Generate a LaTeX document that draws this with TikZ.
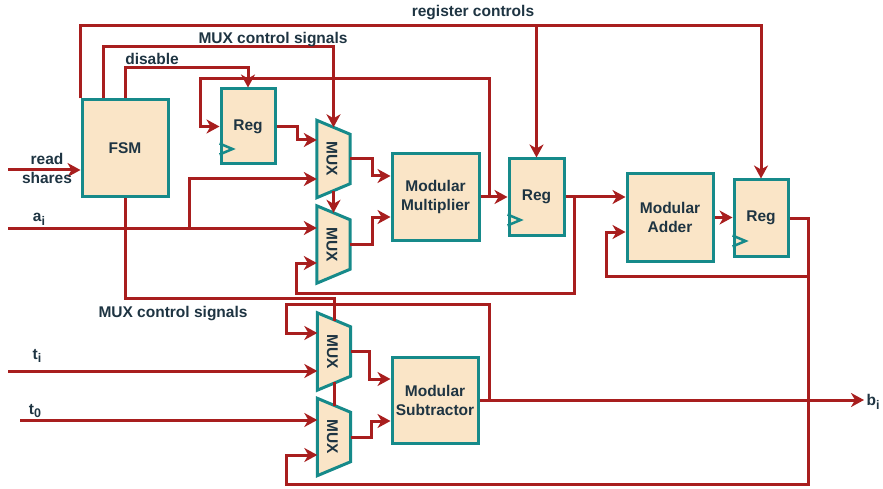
\documentclass[tikz,border=0pt]{standalone}
\usepackage{fontspec}
\setmainfont{Liberation Sans}
\usetikzlibrary{arrows.meta,calc}
\definecolor{wirered}{RGB}{168,30,30}
\definecolor{boxteal}{RGB}{22,138,138}
\definecolor{boxfill}{RGB}{250,229,199}
\definecolor{txt}{RGB}{30,52,66}
\newcommand{\lsub}[1]{\raisebox{-0.45ex}{\fontsize{12.5}{12.5}\selectfont #1}}
\newcommand{\drawmux}[2]{%
  \node[muxnode] (#1) at (#2) {};
  \draw[blk] (#1.north west) -- ($(#1.north east)+(0,14)$) -- ($(#1.south east)+(0,-14)$) -- (#1.south west) -- cycle;
  \node[rotate=-90, lbl] (#1-t) at ($(#1)+(-1.5,0)$) {MUX};}
\begin{document}
\begin{tikzpicture}[x=1pt,y=-1pt,
  font=\fontsize{15.5}{19}\selectfont\bfseries, text=txt,
  blk/.style={draw=boxteal, fill=boxfill, line width=3pt, inner sep=0pt, align=center},
  wire/.style={draw=wirered, line width=3pt},
  arr/.style={wire, -{Stealth[length=13pt,width=14pt,inset=4pt]}},
  lbl/.style={inner sep=0pt},
  clk/.style={draw=boxteal, line width=2.5pt},
  muxnode/.style={minimum width=33pt, minimum height=77pt, inner sep=0pt}]
\useasboundingbox (0,0) rectangle (883,489);

% blocks
\node[blk, minimum width=86pt, minimum height=97pt] (fsm) at (125,148.5) {FSM};
\node[blk, minimum width=54pt, minimum height=75pt] (reg1) at (248,126.5) {Reg};
\node[blk, minimum width=55pt, minimum height=76pt] (reg2) at (536.5,197) {Reg};
\node[blk, minimum width=54pt, minimum height=76pt] (reg3) at (761,218) {Reg};
\node[blk, minimum width=87pt, minimum height=86pt] (mult) at (435.5,197) {Modular\\Multiplier};
\node[blk, minimum width=86pt, minimum height=87pt] (add) at (670,217.5) {Modular\\Adder};
\node[blk, minimum width=86pt, minimum height=86pt] (sub) at (435,400) {Modular\\Subtractor};
\drawmux{m1}{333.5,159}
\drawmux{m2}{333.5,244.5}
\drawmux{m3}{334,351.5}
\drawmux{m4}{334,437}
\foreach \r in {reg1,reg2,reg3}
  \draw[clk] ($(\r.south west)+(0,-22)$) -- ++(13,5.5) -- ++(-13,5.5);

% coordinates
\coordinate (rsin) at (8,170);
\coordinate (aiin) at (8,228);
\coordinate (aisp) at (189,228);
\coordinate (rctop) at (82,26);
\coordinate (mctop) at (103,47);
\coordinate (dtop) at (125,68);
\coordinate (mxsp) at (489,197);
\coordinate (fbtop) at (200,79);
\coordinate (r2sp) at (574,197);
\coordinate (r2bot) at (296,293);
\coordinate (r3sp) at (808,276);
\coordinate (r3bot) at (808,484);
\coordinate (lpl) at (286,484);
\coordinate (addlp) at (606,276);
\coordinate (fsmb) at (125,298);
\coordinate (biout) at (864,400);
\coordinate (sbsp) at (489,400);
\coordinate (sbtop) at (286,304);
\coordinate (tiin) at (8,371);
\coordinate (t0in) at (20,420);

% wires
\draw[arr] (rsin) -- (rsin -| fsm.west);
\draw[arr] (aiin) -- (aiin -| m2.west);
\draw[arr] (aisp) |- ($(m1.west)+(0,20)$);
\draw[arr] (fsm.north west) -- (fsm.north west |- rctop) -| (reg3.north);
\draw[arr] (reg2.north |- rctop) -- (reg2.north);
\draw[arr] (fsm.north west -| mctop) -- (mctop) -| ($(m1.north)+(0,7)$);
\draw[arr] ($(m1.south)+(0,-7)$) -- ($(m2.north)+(0,7)$);
\draw[arr] (fsm.north) -- (dtop) -| (reg1.north);
\draw[arr] (mult.east) -- (reg2.west);
\draw[arr] (mxsp) |- (fbtop) |- (reg1.west);
\draw[arr] (reg1.east) -- ++(21,0) |- ($(m1.west)+(0,-19)$);
\draw[arr] (m1.east) -- ++(22,0) |- ($(mult.west)+(0,-21)$);
\draw[arr] (m2.east) -- ++(22,0) |- ($(mult.west)+(0,20)$);
\draw[arr] (reg2.east) -- (reg2.east -| add.west);
\draw[arr] (r2sp) |- (r2bot) |- ($(m2.west)+(0,18.5)$);
\draw[arr] (add.east) -- (add.east -| reg3.west);
\draw[arr] (reg3.east) -| (r3bot) -- (lpl) |- ($(m4.west)+(0,18)$);
\draw[arr] (r3sp) -- (addlp) |- ($(add.west)+(0,14.5)$);
\draw[wire] (fsm.south) -- (fsmb) -| ($(m3.north)+(0,8)$);
\draw[wire] ($(m3.south)+(0,-8)$) -- ($(m4.north)+(0,8)$);
\draw[arr] (sub.east) -- (biout);
\draw[arr] (sbsp) |- (sbtop) |- ($(m3.west)+(0,-18.5)$);
\draw[arr] (tiin) -- (tiin -| m3.west);
\draw[arr] (t0in) -- (t0in -| m4.west);
\draw[arr] (m3.east) -- ++(19,0) |- ($(sub.west)+(0,-21)$);
\draw[arr] (m4.east) -- ++(21,0) |- ($(sub.west)+(0,21)$);

% labels
\node[lbl] (lrc) at (473,13) {register controls};
\node[lbl] (lmux1) at (273,40) {MUX control signals};
\node[lbl] (ldis) at (152,59) {disable};
\node[lbl] (lread) at (47,159) {read};
\node[lbl] (lshares) at (47,178) {shares};
\node[lbl] (lai) at (39,219) {a\lsub{i}};
\node[lbl] (lmux2) at (173,314) {MUX control signals};
\node[lbl] (lti) at (37,356) {t\lsub{i}};
\node[lbl] (lt0) at (35,411) {t\lsub{0}};
\node[lbl] (lbi) at (873,402) {b\lsub{i}};
\end{tikzpicture}
\end{document}
